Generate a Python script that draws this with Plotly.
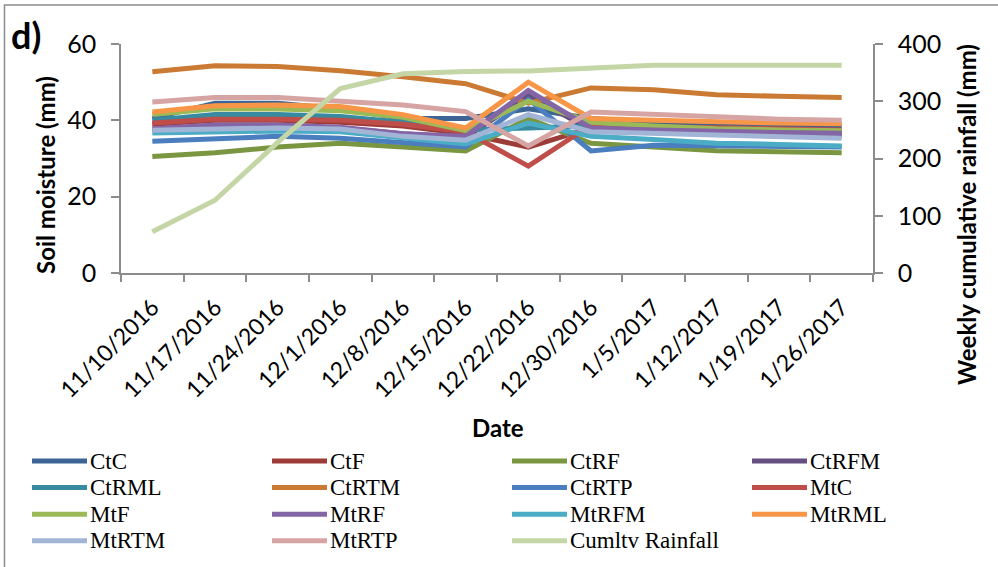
import plotly.graph_objects as go

dates = ["11/10/2016", "11/17/2016", "11/24/2016", "12/1/2016", "12/8/2016", "12/15/2016",
         "12/22/2016", "12/30/2016", "1/5/2017", "1/12/2017", "1/19/2017", "1/26/2017"]

CtC   = [40.5, 44.5, 44.5, 43.0, 40.5, 40.5, 43.0, 40.5, 39.5, 39.0, 38.8, 38.5]
CtF   = [39.0, 40.0, 40.0, 39.5, 38.5, 36.5, 33.0, 38.0, 37.5, 37.0, 36.8, 36.5]
CtRF  = [30.5, 31.5, 33.0, 34.0, 33.0, 32.0, 40.5, 34.0, 33.0, 32.0, 31.8, 31.5]
CtRFM = [37.5, 38.5, 38.5, 38.0, 36.5, 35.5, 46.5, 37.5, 37.0, 36.5, 36.2, 36.0]
CtRML = [40.0, 41.5, 41.5, 41.0, 39.5, 37.5, 38.0, 38.5, 38.0, 37.5, 37.3, 37.0]
CtRTM = [52.7, 54.3, 54.1, 53.0, 51.4, 49.6, 44.5, 48.5, 48.0, 46.7, 46.3, 46.0]
CtRTP = [34.5, 35.3, 35.8, 35.3, 34.0, 33.0, 45.5, 32.0, 33.5, 33.3, 33.2, 33.0]
MtC   = [39.3, 40.3, 40.3, 40.0, 39.0, 37.0, 28.0, 38.8, 38.3, 38.0, 37.8, 37.5]
MtF   = [41.5, 43.0, 43.0, 42.5, 40.8, 37.3, 45.0, 39.5, 38.5, 37.8, 37.5, 37.3]
MtRF  = [37.8, 38.8, 38.8, 38.2, 36.5, 35.8, 47.8, 38.0, 37.5, 37.0, 36.8, 36.6]
MtRFM = [36.7, 37.1, 37.2, 37.0, 35.5, 33.8, 39.3, 35.8, 35.0, 34.0, 33.7, 33.3]
MtRML = [42.2, 43.8, 44.0, 43.6, 41.5, 38.0, 50.0, 40.5, 40.0, 39.5, 39.3, 39.1]
MtRTM = [37.4, 37.8, 38.0, 37.7, 35.8, 34.8, 41.5, 37.0, 36.5, 36.0, 35.6, 35.3]
MtRTP = [44.8, 46.0, 46.0, 45.0, 44.0, 42.3, 33.3, 42.2, 41.5, 40.7, 40.3, 40.0]
rainfall = [72, 127, 228, 322, 348, 352, 353, 358, 363, 363, 363, 363]

series_names = ["CtC", "CtF", "CtRF", "CtRFM", "CtRML", "CtRTM", "CtRTP", "MtC",
                "MtF", "MtRF", "MtRFM", "MtRML", "MtRTM", "MtRTP"]
series_values = [CtC, CtF, CtRF, CtRFM, CtRML, CtRTM, CtRTP, MtC,
                 MtF, MtRF, MtRFM, MtRML, MtRTM, MtRTP]
rain_name = "Cumltv Rainfall"

colors = ["#3C6494", "#9C3B38", "#7A9640", "#654F80", "#378A9F", "#CA7A33", "#4A7EBF",
          "#BF4D4A", "#9BBA57", "#8465A5", "#4BACC6", "#F79646", "#A3B5D6", "#D6A4A3"]
rain_color = "#C4D6A6"

W, H = 998, 567
L, R, T, B = 121, 873, 44, 273  # plot area pixel box
pw, ph = R - L, B - T

fig = go.Figure()
for name, vals, col in zip(series_names, series_values, colors):
    fig.add_trace(go.Scatter(x=dates, y=vals, name=name, mode="lines",
                             line=dict(color=col, width=5), showlegend=False))
fig.add_trace(go.Scatter(x=dates, y=rainfall, name=rain_name, mode="lines", yaxis="y2",
                         line=dict(color=rain_color, width=5), showlegend=False))

axis_col = "#8C8C8C"
xtickfont = dict(family="Lato", size=23, color="black")
ytickfont = dict(family="Lato", size=25, color="black")


def px_x(p):
    return (p - L) / pw


def px_y(p):
    return (B - p) / ph


shapes = []
annotations = []
# manual legend (Excel-like compact layout)
leg_names = series_names + [rain_name]
leg_colors = colors + [rain_color]
col_x0 = 32
col_step = 240
row_y0 = 461
row_step = 26.6
for i, (nm, cl) in enumerate(zip(leg_names, leg_colors)):
    r, c = divmod(i, 4)
    x0 = col_x0 + c * col_step
    y = row_y0 + r * row_step
    shapes.append(dict(type="line", xref="paper", yref="paper",
                       x0=px_x(x0), x1=px_x(x0 + 55), y0=px_y(y), y1=px_y(y),
                       line=dict(color=cl, width=5)))
    annotations.append(dict(xref="paper", yref="paper", x=px_x(x0 + 57), y=px_y(y),
                            xanchor="left", yanchor="middle", showarrow=False, borderpad=0,
                            text=nm, font=dict(family="Liberation Serif", size=23, color="black")))

# chart border (left and top visible)
shapes.append(dict(type="rect", xref="paper", yref="paper",
                   x0=px_x(4.5), x1=px_x(1010), y0=px_y(580), y1=px_y(5),
                   line=dict(color="#8C8C8C", width=1.5), layer="below"))

annotations.append(dict(xref="paper", yref="paper", x=px_x(9), y=px_y(35),
                        xanchor="left", yanchor="middle", showarrow=False,
                        text="<b>d)</b>", font=dict(family="Lato", size=36, color="black")))
# axis titles placed as in the reference
annotations.append(dict(xref="paper", yref="paper", x=px_x(45), y=px_y(175),
                        xanchor="center", yanchor="middle", showarrow=False, textangle=-90,
                        text="<b>Soil moisture (mm)</b>",
                        font=dict(family="Lato", size=24, color="black")))
annotations.append(dict(xref="paper", yref="paper", x=px_x(966), y=px_y(215),
                        xanchor="center", yanchor="middle", showarrow=False, textangle=-90,
                        text="<b>Weekly cumulative rainfall (mm)</b>",
                        font=dict(family="Lato", size=24, color="black")))
annotations.append(dict(xref="paper", yref="paper", x=px_x(498), y=px_y(427),
                        xanchor="center", yanchor="middle", showarrow=False,
                        text="<b>Date</b>",
                        font=dict(family="Lato", size=24, color="black")))

fig.update_layout(
    width=W, height=H,
    margin=dict(l=L, r=W - R, t=T, b=H - B),
    paper_bgcolor="white", plot_bgcolor="white",
    showlegend=False,
    xaxis=dict(type="category", range=[-0.5, 11.5], tickangle=-45,
               tickson="boundaries", ticks="outside", ticklen=7, tickcolor=axis_col,
               tickwidth=1.5, ticklabelstandoff=10,
               showline=True, linecolor=axis_col, linewidth=1.5, showgrid=False,
               tickfont=xtickfont),
    yaxis=dict(range=[0, 60], dtick=20, ticks="outside", ticklen=8, tickcolor=axis_col,
               tickwidth=1.5, ticklabelstandoff=10,
               showline=True, linecolor=axis_col, linewidth=1.5, showgrid=False,
               zeroline=False, tickfont=ytickfont),
    yaxis2=dict(range=[0, 400], dtick=100, overlaying="y", side="right",
                ticks="outside", ticklen=8, tickcolor=axis_col, tickwidth=1.5,
                ticklabelstandoff=10,
                showline=True, linecolor=axis_col, linewidth=1.5, showgrid=False,
                zeroline=False, tickfont=ytickfont),
    shapes=shapes,
    annotations=annotations,
)

fig.write_html("out.html")
